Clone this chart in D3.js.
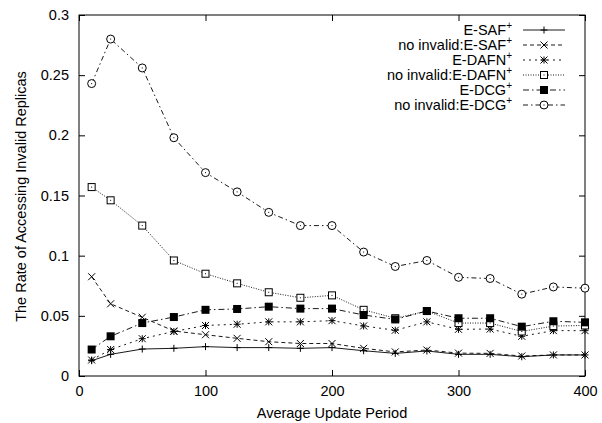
<!DOCTYPE html>
<html><head><meta charset="utf-8">
<script src="https://cdn.jsdelivr.net/npm/d3@7"></script>
<style>body{margin:0;background:#fff}svg{display:block}text{font-family:"Liberation Sans",Arial,sans-serif;fill:#000}</style>
</head><body><svg id="c" width="602" height="423"></svg>
<script>
const periods = [10,25,50,75,100,125,150,175,200,225,250,275,300,325,350,375,400];
const eSAF      = [0.0127,0.018,0.0224,0.023,0.0244,0.0236,0.0236,0.023,0.0236,0.021,0.0188,0.0208,0.018,0.018,0.016,0.0175,0.0175];
const niESAF    = [0.0825,0.060,0.0488,0.0374,0.0343,0.0313,0.0285,0.027,0.027,0.023,0.020,0.0216,0.019,0.0188,0.0166,0.0175,0.0175];
const eDAFN     = [0.0133,0.022,0.031,0.037,0.042,0.043,0.045,0.045,0.046,0.0416,0.038,0.045,0.0388,0.039,0.033,0.0377,0.0377];
const niEDAFN   = [0.157,0.146,0.125,0.096,0.085,0.077,0.0696,0.065,0.067,0.055,0.048,0.054,0.044,0.044,0.037,0.0415,0.042];
const eDCG      = [0.022,0.033,0.044,0.049,0.055,0.0557,0.0576,0.056,0.056,0.0507,0.047,0.054,0.048,0.048,0.041,0.0455,0.0446];
const niEDCG    = [0.243,0.280,0.256,0.198,0.169,0.153,0.136,0.125,0.125,0.103,0.091,0.096,0.082,0.081,0.068,0.074,0.073];
const seriesNames = ["E-SAF","no invalid:E-SAF","E-DAFN","no invalid:E-DAFN","E-DCG","no invalid:E-DCG"];
const xTicks = [0,100,200,300,400];
const yTicks = [0,0.05,0.1,0.15,0.2,0.25,0.3];

const series = [
  {name:seriesNames[0], values:eSAF,    dash:null,        marker:"plus"},
  {name:seriesNames[1], values:niESAF,  dash:"4,3",       marker:"cross"},
  {name:seriesNames[2], values:eDAFN,   dash:"2,4",       marker:"star"},
  {name:seriesNames[3], values:niEDAFN, dash:"1,1.5",     marker:"square"},
  {name:seriesNames[4], values:eDCG,    dash:"6,3,1.5,3", marker:"fsquare"},
  {name:seriesNames[5], values:niEDCG,  dash:"5,3,1.5,3", marker:"circle"}
];

const FS = 14.5;
const svg = d3.select("#c");
const L=79, R=585, T=15, B=376;
const x = d3.scaleLinear().domain([0,400]).range([L,R]);
const y = d3.scaleLinear().domain([0,0.3]).range([B,T]);

svg.append("rect").attr("x",L).attr("y",T).attr("width",R-L).attr("height",B-T)
  .attr("fill","none").attr("stroke","#000").attr("stroke-width",1);

const xa = svg.append("g").attr("transform",`translate(0,${B})`)
  .call(d3.axisBottom(x).tickValues(xTicks).tickSize(-6).tickPadding(10).tickFormat(d3.format("d")));
const xt = svg.append("g").attr("transform",`translate(0,${T})`)
  .call(d3.axisTop(x).tickValues(xTicks).tickSize(-6).tickFormat(""));
const ya = svg.append("g").attr("transform",`translate(${L},0)`)
  .call(d3.axisLeft(y).tickValues(yTicks).tickSize(-6).tickPadding(10).tickFormat(d=>d===0?"0":String(+d.toFixed(2))));
const yr = svg.append("g").attr("transform",`translate(${R},0)`)
  .call(d3.axisRight(y).tickValues(yTicks).tickSize(-6).tickFormat(""));
[xa,xt,ya,yr].forEach(g=>{g.select(".domain").remove();g.selectAll("text").attr("font-size",FS).attr("font-family","Liberation Sans, Arial, sans-serif");g.selectAll("line").attr("stroke","#000");});

svg.append("text").attr("x",(L+R)/2).attr("y",418).attr("text-anchor","middle").attr("font-size",FS).text("Average Update Period");
svg.append("text").attr("transform",`translate(26,${(T+B)/2+1}) rotate(-90)`).attr("text-anchor","middle").attr("font-size",FS).text("The Rate of Accessing Invalid Replicas");

function drawMarker(g, type, cx, cy){
  const s=3.5;
  if(type==="plus"){
    g.append("path").attr("d",`M${cx-s},${cy}H${cx+s}M${cx},${cy-s}V${cy+s}`).attr("stroke","#000").attr("fill","none");
  } else if(type==="cross"){
    g.append("path").attr("d",`M${cx-s},${cy-s}L${cx+s},${cy+s}M${cx-s},${cy+s}L${cx+s},${cy-s}`).attr("stroke","#000").attr("fill","none");
  } else if(type==="star"){
    g.append("path").attr("d",`M${cx-s},${cy}H${cx+s}M${cx},${cy-s}V${cy+s}M${cx-s},${cy-s}L${cx+s},${cy+s}M${cx-s},${cy+s}L${cx+s},${cy-s}`).attr("stroke","#000").attr("fill","none");
  } else if(type==="square"){
    g.append("rect").attr("x",cx-s).attr("y",cy-s).attr("width",2*s).attr("height",2*s).attr("fill","#fff").attr("stroke","#000");
    g.append("rect").attr("x",cx-0.5).attr("y",cy-0.5).attr("width",1).attr("height",1).attr("fill","#000");
  } else if(type==="fsquare"){
    g.append("rect").attr("x",cx-s-0.5).attr("y",cy-s-0.5).attr("width",2*s+1).attr("height",2*s+1).attr("fill","#000");
  } else if(type==="circle"){
    g.append("circle").attr("cx",cx).attr("cy",cy).attr("r",s+0.5).attr("fill","#fff").attr("stroke","#000");
    g.append("rect").attr("x",cx-0.5).attr("y",cy-0.5).attr("width",1).attr("height",1).attr("fill","#000");
  }
}

const line = d3.line().x((d,i)=>x(periods[i])).y(d=>y(d));
series.forEach(s=>{
  const g = svg.append("g");
  g.append("path").datum(s.values).attr("d",line).attr("fill","none").attr("stroke","#000").attr("stroke-width",0.9)
    .attr("stroke-dasharray",s.dash);
  s.values.forEach((v,i)=>drawMarker(g,s.marker,x(periods[i]),y(v)));
});

const lg = svg.append("g");
series.forEach((s,i)=>{
  const yy = 30 + i*15;
  const t = lg.append("text").attr("x",512).attr("y",yy+5).attr("text-anchor","end").attr("font-size",FS);
  t.append("tspan").text(s.name);
  t.append("tspan").attr("dy",-6).attr("font-size",10).text("+");
  lg.append("line").attr("x1",523).attr("x2",565).attr("y1",yy).attr("y2",yy).attr("stroke","#000").attr("stroke-width",0.9).attr("stroke-dasharray",s.dash);
  drawMarker(lg,s.marker,544,yy);
});
</script></body></html>
